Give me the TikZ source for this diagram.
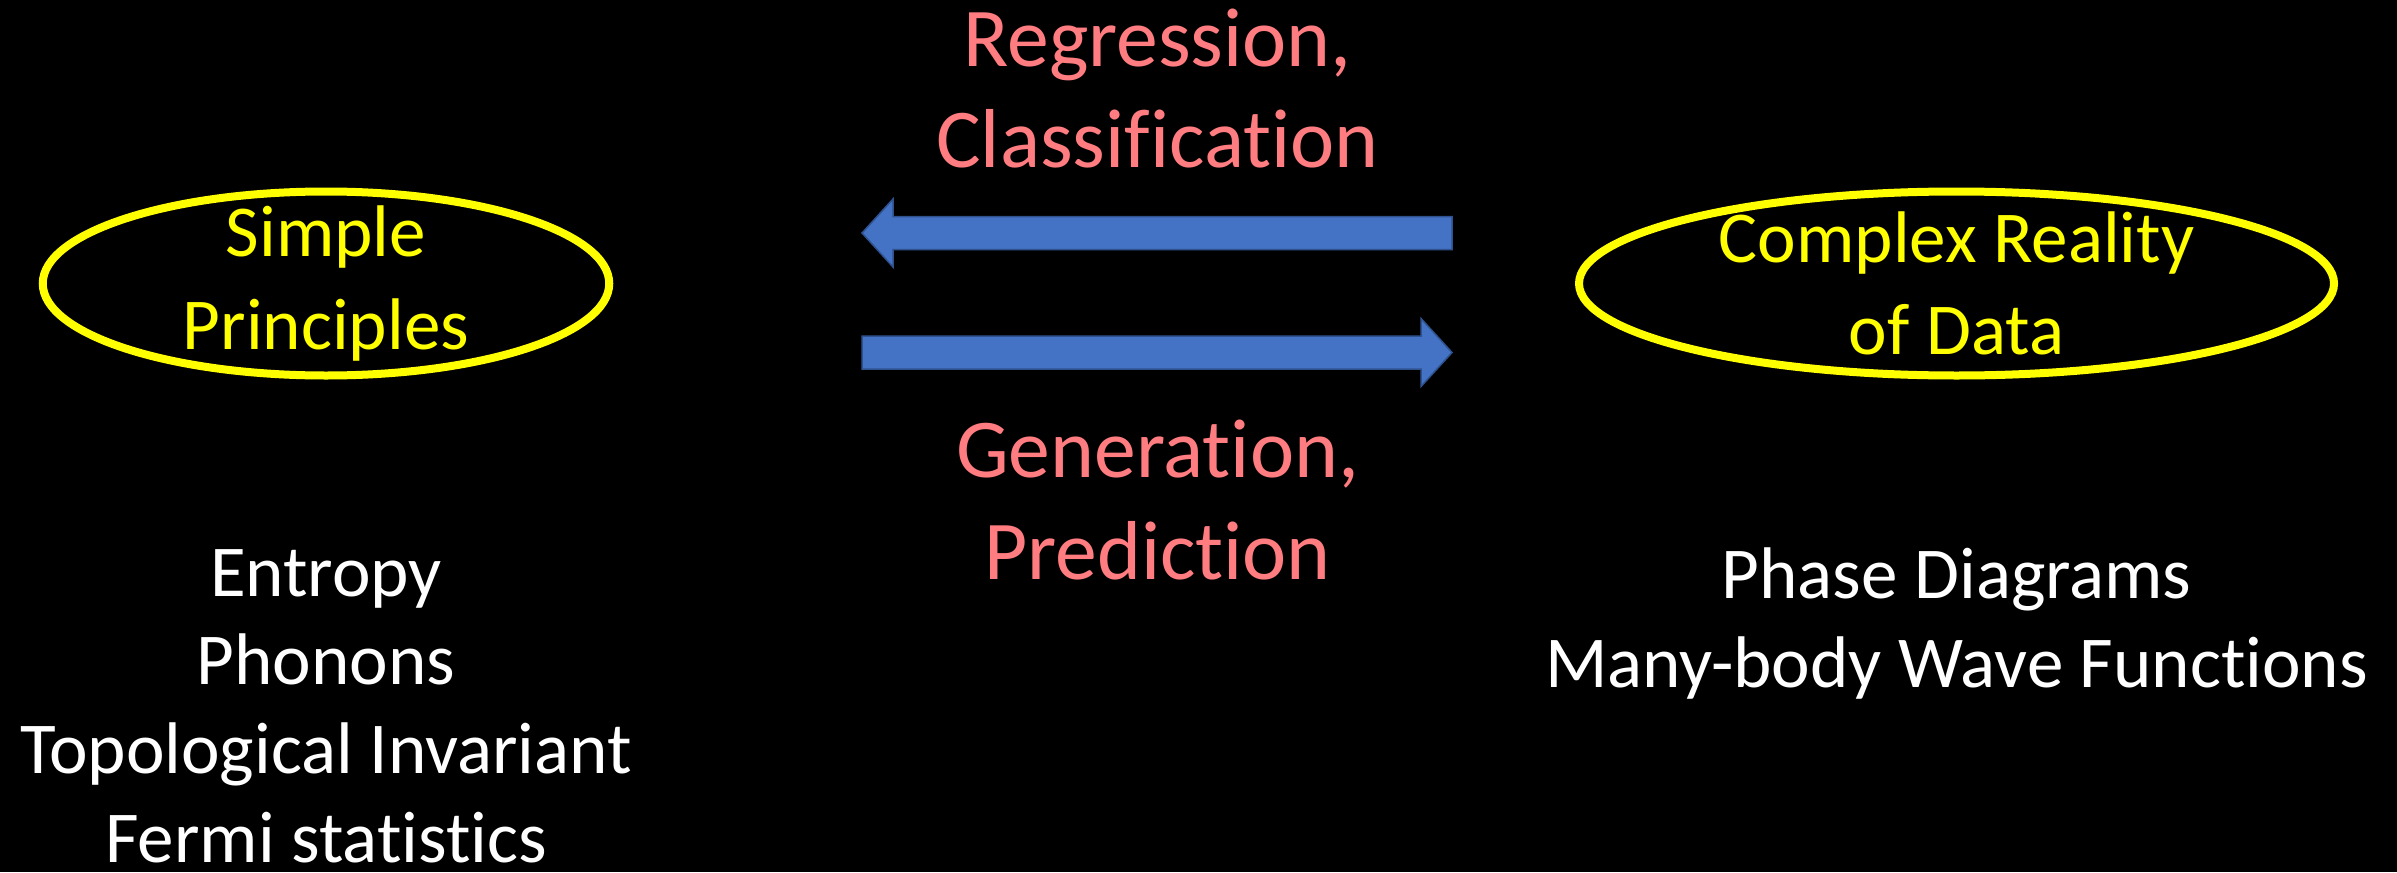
\documentclass[tikz,border=0pt]{standalone}
\usepackage{fontspec}
\setmainfont{Carlito}[Ligatures={NoCommon}]
\usetikzlibrary{positioning}
\usetikzlibrary{shapes.geometric}
\usetikzlibrary{calc}

\definecolor{oval_yellow}{HTML}{FFFF00}
\definecolor{task_red}{HTML}{FF7C80}
\definecolor{arrow_blue}{HTML}{4472C4}
\definecolor{arrow_edge}{HTML}{2F528F}

\begin{document}
\begin{tikzpicture}
    \tikzstyle{oval_node}=[ellipse, draw=oval_yellow, line width=0.08cm, minimum height=1.84cm, inner sep=-0.5cm, text=oval_yellow, align=center, font=\fontsize{20.8}{26.2}\selectfont];
    \tikzstyle{task_node}=[align=center, text=task_red, inner sep=0pt, font=\fontsize{23.8}{28.8}\selectfont];
    \tikzstyle{list_node}=[align=center, text=white, inner sep=0pt, font=\fontsize{20.8}{25.2}\selectfont];
    \tikzstyle{block_arrow}=[fill=arrow_blue, draw=arrow_edge, line width=0.015cm, line join=miter];

    % black page
    \fill[black] (0,0) rectangle (23.97,-8.72);
    \useasboundingbox (0,0) rectangle (23.97,-8.72);

    % Ovals
    \node(simple) [oval_node, minimum width=5.665cm] at (3.26,-2.835) {Simple\\Principles};
    \node(complex) [oval_node, minimum width=7.55cm] at (19.565,-2.835) {Complex Reality\\of Data};

    % Examples under the ovals (base = last line)
    \node(simple_list) [list_node, below = 5.785cm of simple.center, anchor=base] {Entropy\\Phonons\\Topological Invariant\\Fermi statistics};
    \node(complex_list) [list_node, below = 4.035cm of complex.center, anchor=base] {Phase Diagrams\\Many-body Wave Functions};

    % Arrows
    \coordinate(back_tip) at (8.62,-2.33);
    \coordinate(back_tail) at (14.52,-2.33);
    \coordinate(fwd_tail) at (8.62,-3.525);
    \coordinate(fwd_tip) at (14.52,-3.525);
    \draw[block_arrow] (back_tip) -- ($(back_tip)+(0.31,0.34)$) -- ($(back_tip)+(0.31,0.165)$) -- ($(back_tail)+(0,0.165)$)
        -- ($(back_tail)+(0,-0.165)$) -- ($(back_tip)+(0.31,-0.165)$) -- ($(back_tip)+(0.31,-0.34)$) -- cycle;
    \draw[block_arrow] (fwd_tip) -- ($(fwd_tip)+(-0.31,0.34)$) -- ($(fwd_tip)+(-0.31,0.165)$) -- ($(fwd_tail)+(0,0.165)$)
        -- ($(fwd_tail)+(0,-0.165)$) -- ($(fwd_tip)+(-0.31,-0.165)$) -- ($(fwd_tip)+(-0.31,-0.34)$) -- cycle;

    % Labels over and under the arrows
    \node(regression) [task_node, anchor=base] at (11.575,-1.68) {Regression,\\Classification};
    \node(generation) [task_node, anchor=base] at (11.575,-5.79) {Generation,\\Prediction};
\end{tikzpicture}
\end{document}
